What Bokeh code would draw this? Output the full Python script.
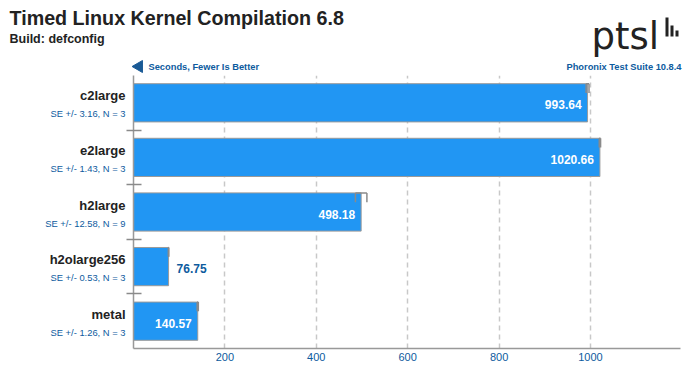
import math
from bokeh.plotting import figure
from bokeh.models import Range1d, ColumnDataSource, FixedTicker
from bokeh.layouts import column, row
from bokeh.core.properties import value
from bokeh.embed import file_html
from bokeh.resources import INLINE

# ---- data ----
categories = ["c2large", "e2large", "h2large", "h2olarge256", "metal"]
values = [993.64, 1020.66, 498.18, 76.75, 140.57]
se = [3.16, 1.43, 12.58, 0.53, 1.26]
n_runs = [3, 3, 9, 3, 3]
x_ticks = [200, 400, 600, 800, 1000]

title_text = "Timed Linux Kernel Compilation 6.8"
subtitle_text = "Build: defconfig"
unit_text = "Seconds, Fewer Is Better"
suite_text = "Phoronix Test Suite 10.8.4"
logo_text = "ptsl"

BLUE = "#2196f3"
DARK = "#0d5b9e"
INK = "#222222"
FONT = "Liberation Sans"

W = 683
HEAD_H = 75
BODY_H = 297
ML = 7          # left border of main figure (axis ticks)
LEFT_W = 133 - ML
MB = 24
MR = 3

ncat = len(categories)
ypos = [ncat - 1 - i for i in range(ncat)]
bar_h = 0.7
inside = [v > 100 for v in values]


def bare(fig):
    fig.min_border_left = 0
    fig.min_border_right = 0
    fig.min_border_top = 0
    fig.min_border_bottom = 0
    fig.outline_line_color = None
    fig.xgrid.visible = False
    fig.ygrid.visible = False
    fig.background_fill_color = "white"
    fig.border_fill_color = "white"


# ---------- header ----------
head = figure(width=W, height=HEAD_H, output_backend="svg", toolbar_location=None,
              x_range=Range1d(0, W), y_range=Range1d(HEAD_H, 0),
              x_axis_type=None, y_axis_type=None)
bare(head)
head.text(x=[9], y=[17], text=[title_text], text_font=value(FONT), text_font_style="bold",
          text_font_size="19.7px", text_color=INK, text_baseline="middle", text_align="left")
head.text(x=[9], y=[38], text=[subtitle_text], text_font=value(FONT), text_font_style="bold",
          text_font_size="12.5px", text_color=INK, text_baseline="middle", text_align="left")
head.scatter(x=[138.5], y=[66], marker="triangle", angle=math.pi / 2, size=12,
             fill_color="#1a5a96", line_color="#1a5a96")
head.text(x=[148], y=[66], text=[unit_text], text_font=value(FONT), text_font_style="bold",
          text_font_size="9.3px", text_color=DARK, text_baseline="middle", text_align="left")
head.text(x=[681], y=[66], text=[suite_text], text_font=value(FONT), text_font_style="bold",
          text_font_size="9.3px", text_color=DARK, text_baseline="middle", text_align="right")
# logo
head.text(x=[591], y=[36], text=[logo_text], text_font=value("DejaVu Sans"),
          text_font_size="37px", text_color=INK, text_baseline="alphabetic", text_align="left")
head.quad(left=[665, 670, 675], right=[668, 673, 678], top=[17, 25, 30], bottom=[36, 36, 36],
          fill_color=INK, line_color=None)

# ---------- shared y range ----------
yr = Range1d(-0.5, ncat - 0.5)

# ---------- left labels ----------
left = figure(width=LEFT_W, height=BODY_H, output_backend="svg", toolbar_location=None,
              x_range=Range1d(0, LEFT_W), y_range=yr, x_axis_type=None, y_axis_type=None)
bare(left)
left.min_border_bottom = MB
lsrc = ColumnDataSource(dict(
    x=[LEFT_W - 1] * ncat, y=ypos, cat=categories,
    se_txt=[f"SE +/- {s:.2f}, N = {k}" for s, k in zip(se, n_runs)],
))
left.text(x="x", y="y", text="cat", source=lsrc, y_offset=-7,
          text_font=value(FONT), text_font_style="bold", text_font_size="13px",
          text_color=INK, text_baseline="middle", text_align="right")
left.text(x="x", y="y", text="se_txt", source=lsrc, y_offset=11,
          text_font=value(FONT), text_font_size="9.4px",
          text_color=DARK, text_baseline="middle", text_align="right")

# ---------- main chart ----------
p = figure(width=W - LEFT_W, height=BODY_H, output_backend="svg", toolbar_location=None,
           x_range=Range1d(0, 1197), y_range=yr)
p.min_border_left = ML
p.min_border_right = MR
p.min_border_top = 0
p.min_border_bottom = MB
p.outline_line_color = None
p.background_fill_color = "white"
p.border_fill_color = "white"

src = ColumnDataSource(dict(y=ypos, v=values))
p.hbar(y="y", left=0, right="v", height=bar_h, source=src,
       fill_color=BLUE, line_color="#9a9a9a", line_width=1)

# error brackets (at bar top)
top = [y + bar_h / 2 for y in ypos]
lo = [v - s for v, s in zip(values, se)]
hi = [v + s for v, s in zip(values, se)]
drop = [t - 0.17 for t in top]
ecol = "#8a8a8a"
p.segment(x0=lo, x1=hi, y0=top, y1=top, line_color=ecol, line_width=1.5)
p.segment(x0=lo, x1=lo, y0=top, y1=drop, line_color=ecol, line_width=1.5)
p.segment(x0=hi, x1=hi, y0=top, y1=drop, line_color=ecol, line_width=1.5)

# value labels
src_in = ColumnDataSource(dict(
    y=[y for y, i in zip(ypos, inside) if i],
    v=[v for v, i in zip(values, inside) if i],
    t=[f"{v:.2f}" for v, i in zip(values, inside) if i],
))
src_out = ColumnDataSource(dict(
    y=[y for y, i in zip(ypos, inside) if not i],
    v=[v for v, i in zip(values, inside) if not i],
    t=[f"{v:.2f}" for v, i in zip(values, inside) if not i],
))
p.text(x="v", y="y", text="t", source=src_in, x_offset=-6, y_offset=2,
       text_font=value(FONT), text_font_style="bold", text_font_size="12px",
       text_color="white", text_baseline="middle", text_align="right")
p.text(x="v", y="y", text="t", source=src_out, x_offset=8, y_offset=2,
       text_font=value(FONT), text_font_style="bold", text_font_size="12px",
       text_color=DARK, text_baseline="middle", text_align="left")

# axes
xa = p.xaxis[0]
xa.ticker = FixedTicker(ticks=x_ticks)
xa.axis_line_color = "#999999"
xa.axis_line_width = 1.5
xa.major_tick_line_color = None
xa.major_tick_out = 0
xa.major_tick_in = 0
xa.minor_tick_line_color = None
xa.major_label_text_color = DARK
xa.major_label_text_font = FONT
xa.major_label_text_font_size = "11px"
xa.major_label_standoff = 4

# left axis: category separators drawn as (label-free) minor ticks
ya = p.yaxis[0]
ya.ticker = FixedTicker(ticks=[], minor_ticks=[y + 0.5 for y in range(ncat - 1)])
ya.axis_line_color = "#999999"
ya.axis_line_width = 1.5
ya.major_tick_line_color = None
ya.minor_tick_line_color = "#8a8a8a"
ya.minor_tick_line_width = 1.5
ya.minor_tick_in = 8
ya.minor_tick_out = 7
ya.major_label_standoff = 0

p.xgrid.ticker = FixedTicker(ticks=x_ticks)
p.xgrid.grid_line_color = "#c8c8c8"
p.xgrid.grid_line_dash = "5 4"
p.xgrid.grid_line_width = 1.5
p.ygrid.grid_line_color = None

layout = column(head, row(left, p, spacing=0), spacing=0)
open("out.html", "w").write(file_html(layout, INLINE))
